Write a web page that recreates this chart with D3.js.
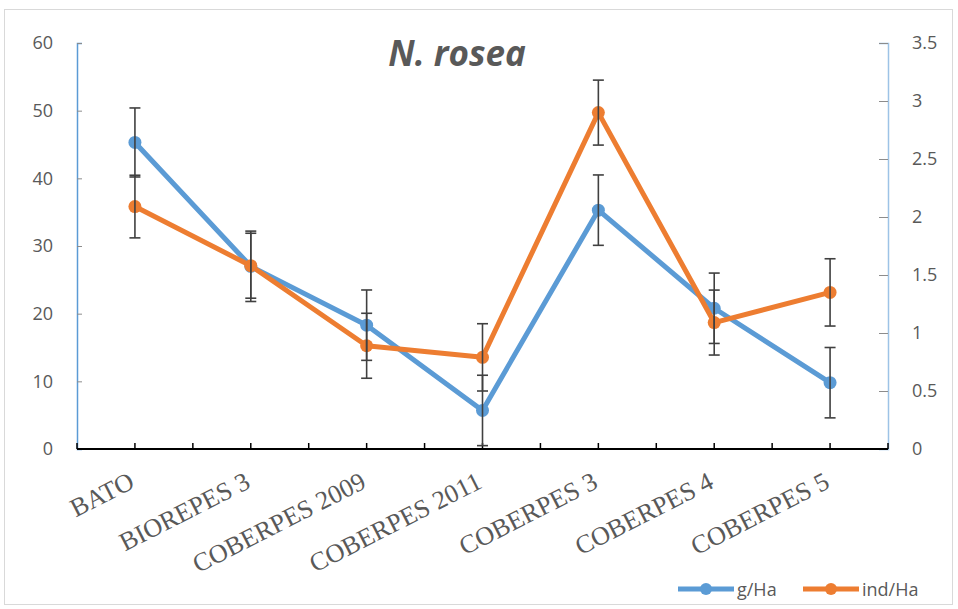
<!DOCTYPE html>
<html>
<head>
<meta charset="utf-8">
<script src="https://cdn.jsdelivr.net/npm/d3@7/dist/d3.min.js"></script>
<style>
  html, body { margin: 0; padding: 0; background: #fff; }
  svg { display: block; }
</style>
</head>
<body>
<svg id="chart" width="958" height="609"></svg>
<script>
// Sampling sites
const categories = ["BATO", "BIOREPES 3", "COBERPES 2009", "COBERPES 2011", "COBERPES 3", "COBERPES 4", "COBERPES 5"];
// Biomass (g/Ha), left axis
const gHa = [45.3, 27.0, 18.3, 5.7, 35.3, 20.8, 9.8];
const gHaErr = [5.1, 5.2, 5.2, 5.2, 5.2, 5.2, 5.2];
// Density (ind/Ha), right axis
const indHa = [2.09, 1.58, 0.89, 0.79, 2.90, 1.09, 1.35];
const indHaErr = [0.27, 0.28, 0.28, 0.29, 0.28, 0.28, 0.29];
// Axis ticks
const leftTicks = [0, 10, 20, 30, 40, 50, 60];
const rightTicks = [0, 0.5, 1, 1.5, 2, 2.5, 3, 3.5];

const svg = d3.select("#chart");
const plotLeft = 77, plotRight = 888, plotTop = 43, plotBottom = 449;
const blue = "#5B9BD5", orange = "#ED7D31", grey = "#595959", errColor = "#404040";

// Outer frame
svg.append("rect").attr("x", 4.5).attr("y", 9.5).attr("width", 948).attr("height", 595)
  .attr("fill", "#fff").attr("stroke", "#d9d9d9").attr("stroke-width", 1);

const x = d3.scaleBand().domain(categories).range([plotLeft, plotRight]).padding(0);
const cx = c => x(c) + x.bandwidth() / 2;
const yL = d3.scaleLinear().domain([0, 60]).range([plotBottom, plotTop]);
const yR = d3.scaleLinear().domain([0, 3.5]).range([plotBottom, plotTop]);

// Title
svg.append("text").attr("x", 457).attr("y", 66).attr("text-anchor", "middle")
  .attr("font-family", "'Open Sans', sans-serif").attr("font-weight", "bold")
  .attr("font-style", "italic").attr("font-size", 35).attr("fill", grey)
  .text("N. rosea");

// Left axis
const axL = svg.append("g").attr("transform", `translate(${plotLeft},0)`)
  .call(d3.axisRight(yL).tickValues(leftTicks).tickSize(5).tickFormat(d3.format("d")));
axL.select(".domain").attr("stroke", blue).attr("stroke-width", 1.5);
axL.selectAll(".tick line").attr("stroke", "#8c8c8c");
axL.selectAll(".tick text").attr("x", -24).attr("text-anchor", "end")
  .attr("font-family", "'Open Sans', sans-serif").attr("font-size", 18).attr("fill", grey);

// Right axis
const axR = svg.append("g").attr("transform", `translate(${plotRight},0)`)
  .call(d3.axisLeft(yR).tickValues(rightTicks).tickSize(9).tickFormat(d => String(d)));
axR.select(".domain").attr("stroke", "#9dc3e6").attr("stroke-width", 1.5);
axR.selectAll(".tick line").attr("stroke", "#8c8c8c");
axR.selectAll(".tick text").attr("x", 24).attr("text-anchor", "start")
  .attr("font-family", "'Open Sans', sans-serif").attr("font-size", 18).attr("fill", grey);

// Category axis: ticks at band edges and band centres
const tickXs = [];
categories.forEach(c => { tickXs.push(x(c)); tickXs.push(cx(c)); });
tickXs.push(plotRight);
svg.append("g").selectAll("line").data(tickXs).join("line")
  .attr("x1", d => d).attr("x2", d => d).attr("y1", plotBottom).attr("y2", plotBottom - 6)
  .attr("stroke", "#000").attr("stroke-width", 1.5);
svg.append("line").attr("x1", plotLeft).attr("x2", plotRight).attr("y1", plotBottom).attr("y2", plotBottom)
  .attr("stroke", "#000").attr("stroke-width", 2.2);

svg.append("g").selectAll("text").data(categories).join("text")
  .attr("transform", c => `translate(${cx(c) + 1},${plotBottom + 38}) rotate(-27)`)
  .attr("text-anchor", "end")
  .attr("font-family", "'Liberation Serif', 'Times New Roman', serif")
  .attr("font-size", 26).attr("fill", grey)
  .text(c => c);

// Series lines and markers
function drawSeries(vals, scale, color) {
  const line = d3.line().x((d, i) => cx(categories[i])).y(d => scale(d));
  svg.append("path").datum(vals).attr("d", line).attr("fill", "none")
    .attr("stroke", color).attr("stroke-width", 5).attr("stroke-linejoin", "round");
  svg.append("g").selectAll("circle").data(vals).join("circle")
    .attr("cx", (d, i) => cx(categories[i])).attr("cy", d => scale(d)).attr("r", 6.5)
    .attr("fill", color);
}
drawSeries(gHa, yL, blue);
drawSeries(indHa, yR, orange);

// Error bars
function drawErrors(vals, errs, scale) {
  const g = svg.append("g").attr("stroke", errColor).attr("stroke-width", 1.6);
  vals.forEach((v, i) => {
    const px = cx(categories[i]);
    const y1 = scale(Math.max(0, v - errs[i])), y2 = scale(v + errs[i]);
    g.append("line").attr("x1", px).attr("x2", px).attr("y1", y1).attr("y2", y2);
    g.append("line").attr("x1", px - 5.5).attr("x2", px + 5.5).attr("y1", y1).attr("y2", y1);
    g.append("line").attr("x1", px - 5.5).attr("x2", px + 5.5).attr("y1", y2).attr("y2", y2);
  });
}
drawErrors(gHa, gHaErr, yL);
drawErrors(indHa, indHaErr, yR);

// Legend
const legend = [
  { name: "g/Ha", color: blue, x: 678 },
  { name: "ind/Ha", color: orange, x: 803 }
];
const lg = svg.append("g");
legend.forEach(l => {
  lg.append("line").attr("x1", l.x).attr("x2", l.x + 56).attr("y1", 589).attr("y2", 589)
    .attr("stroke", l.color).attr("stroke-width", 5);
  lg.append("circle").attr("cx", l.x + 28).attr("cy", 589).attr("r", 6).attr("fill", l.color);
  lg.append("text").attr("x", l.x + 59).attr("y", 596)
    .attr("font-family", "'Open Sans', sans-serif").attr("font-size", 18).attr("fill", grey)
    .text(l.name);
});
</script>
</body>
</html>
